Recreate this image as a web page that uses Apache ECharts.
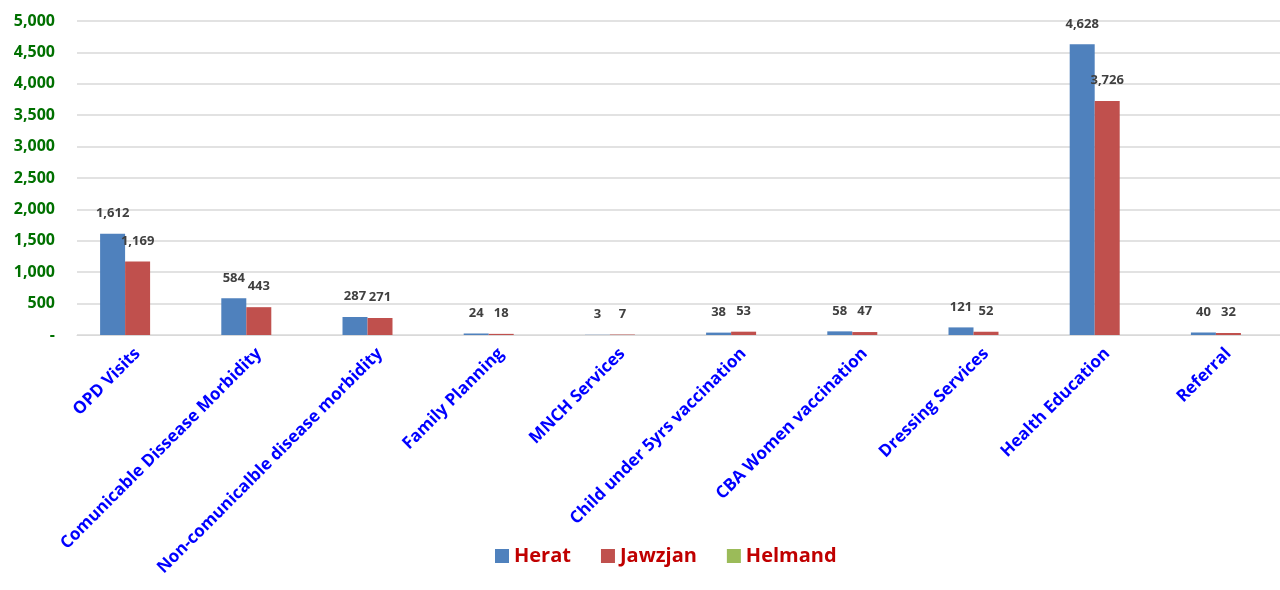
<!DOCTYPE html>
<html><head><meta charset="utf-8">
<script src="https://cdn.jsdelivr.net/npm/echarts@6/dist/echarts.min.js"></script>
<style>html,body{margin:0;padding:0;background:#fff;overflow:hidden;width:1280px;height:590px}#c{width:1289px;height:590px}</style>
</head><body><div id="c"></div>
<script>
const categories = ["OPD Visits","Comunicable Dissease Morbidity","Non-comunicalble disease morbidity","Family Planning","MNCH Services","Child under 5yrs vaccination","CBA Women vaccination","Dressing Services","Health Education","Referral"];
const herat = [1612,584,287,24,3,38,58,121,4628,40];
const jawzjan = [1169,443,271,18,7,53,47,52,3726,32];
const helmand = [0,0,0,0,0,0,0,0,0,0];
const yTicks = {min:0, max:5000, interval:500};

const chart = echarts.init(document.getElementById('c'));
const fmt = v => v === 0 ? '-' : v.toLocaleString('en-US');
const lbl = {show:true, position:'top', distance:14, color:'#404040', fontWeight:'bold', fontSize:13, fontFamily:'Open Sans', formatter:p=>p.value.toLocaleString('en-US')};
chart.setOption({
  animation:false,
  grid:{left:77, right:0, top:21, bottom:255, containLabel:false},
  legend:{bottom:19, left:490, icon:'rect', itemWidth:14, itemHeight:14, itemGap:30,
    textStyle:{color:'#c00000', fontWeight:'bold', fontSize:20, fontFamily:'Open Sans'},
    data:['Herat','Jawzjan','Helmand']},
  xAxis:{type:'category', data:categories,
    axisLine:{lineStyle:{color:'#d9d9d9', width:1}}, axisTick:{show:false},
    axisLabel:{rotate:45, interval:0, color:'#0000ff', fontWeight:'bold', fontSize:17, fontFamily:'Open Sans', margin:16}},
  yAxis:{type:'value', min:yTicks.min, max:yTicks.max, interval:yTicks.interval,
    axisLine:{show:false}, axisTick:{show:false},
    splitLine:{lineStyle:{color:'#d9d9d9', width:1.5}},
    axisLabel:{formatter:fmt, color:'#007000', fontWeight:'bold', fontSize:16, fontFamily:'Open Sans', margin:22}},
  series:[
    {name:'Herat', type:'bar', data:herat, itemStyle:{color:'#4f81bd'}, barWidth:25, barGap:'0%', label:lbl},
    {name:'Jawzjan', type:'bar', data:jawzjan, itemStyle:{color:'#c0504d'}, barWidth:25, barGap:'0%', label:lbl},
    {name:'Helmand', type:'bar', data:helmand, itemStyle:{color:'#9bbb59'}, barWidth:25, barGap:'0%', label:{show:false}}
  ]
});
</script></body></html>
